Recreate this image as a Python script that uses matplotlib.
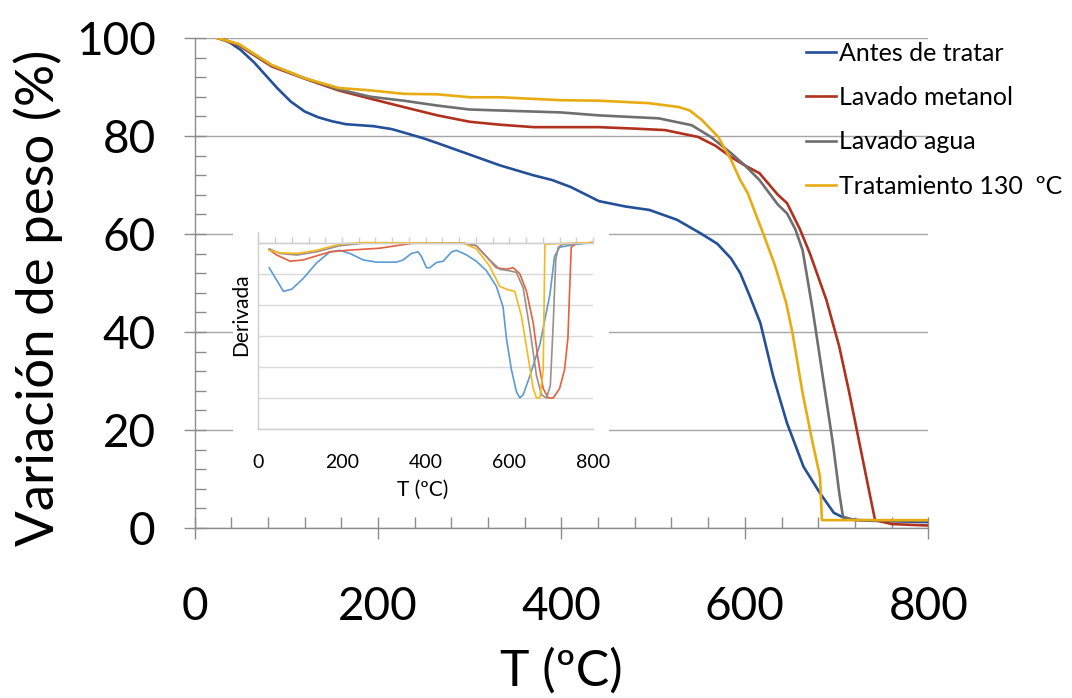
import matplotlib
matplotlib.use("Agg")
import matplotlib.pyplot as plt
from matplotlib.patches import Rectangle
from matplotlib.ticker import MultipleLocator

plt.rcParams['font.family'] = ['Lato', 'DejaVu Sans']

# TGA curves: weight (%) vs temperature (ºC)
t_antes = [25, 35, 50, 65, 77, 90, 105, 120, 135, 150, 165, 195, 215, 230, 250, 267, 300, 333, 369, 390,
           410, 441, 470, 496, 526, 552, 570, 585, 595, 605, 617, 631, 646, 664, 682, 697, 711, 730, 800]
w_antes = [100, 99.5, 97.6, 95, 92.5, 89.8, 87, 85, 83.8, 83, 82.4, 82, 81.4, 80.6, 79.5, 78.4, 76.2, 74, 72, 71,
           69.6, 66.7, 65.6, 64.9, 62.9, 60.1, 58, 55, 52, 47.5, 41.8, 30.9, 21.4, 12.5, 7.1, 3.1, 1.8, 1.5, 1.2]

t_metanol = [25, 48, 84, 120, 157, 192, 228, 265, 300, 333, 370, 441, 480, 513, 549, 568, 585, 600, 616,
             636, 646, 660, 671, 689, 703, 714, 725, 736, 742, 760, 800]
w_metanol = [100, 98.5, 94.2, 91.7, 89.3, 87.6, 85.9, 84.2, 82.9, 82.3, 81.8, 81.8, 81.5, 81.2, 79.8, 78, 75.7, 74, 72.4,
             68, 66.3, 61, 56, 46.5, 37, 27.5, 17.3, 7.1, 1.6, 0.8, 0.5]

t_agua = [25, 48, 84, 120, 157, 192, 228, 265, 300, 333, 400, 441, 506, 542, 563, 585, 600, 616, 636, 646,
          655, 663, 674, 685, 696, 703, 707, 720, 800]
w_agua = [100, 98.6, 94.4, 91.8, 89.5, 88, 87.2, 86.2, 85.4, 85.2, 84.8, 84.2, 83.6, 82.2, 79.8, 76.5, 74, 71, 66, 64.2,
          61, 56.7, 44.5, 30.9, 17.3, 7.1, 2.3, 1.6, 1.5]

t_130 = [25, 48, 84, 120, 157, 192, 228, 265, 300, 333, 400, 441, 495, 528, 540, 553, 571, 585, 595, 603,
         620, 633, 645, 652, 663, 674, 682, 684, 800]
w_130 = [100, 98.8, 94.5, 91.8, 89.8, 89.3, 88.6, 88.5, 87.9, 87.9, 87.3, 87.2, 86.7, 85.9, 85.2, 83.3, 79.8, 75.1, 71, 68.4,
         60.1, 53.5, 46, 39.8, 27.5, 17.3, 10.5, 1.6, 1.6]

# derivative curves (normalised) for the inset
td_antes = [26, 60, 80, 107, 139, 171, 195, 219, 251, 283, 330, 346, 366, 382, 390, 402, 410, 426, 442, 462,
            474, 498, 521, 545, 569, 585, 593, 605, 617, 625, 633, 649, 673, 697, 708, 720, 752, 800]
d_antes = [-0.81, -1.57, -1.5, -1.16, -0.66, -0.3, -0.25, -0.35, -0.56, -0.63, -0.63, -0.56, -0.35, -0.3, -0.45, -0.81,
           -0.81, -0.64, -0.6, -0.3, -0.25, -0.4, -0.6, -0.9, -1.41, -2.07, -3.08, -4.09, -4.8, -5.0, -4.9, -4.3,
           -3.28, -1.67, -0.45, -0.15, -0.07, 0]

td_metanol = [26, 44, 76, 107, 171, 211, 291, 330, 370, 490, 521, 545, 569, 593, 609, 625, 641, 657, 669, 681,
              693, 705, 720, 732, 740, 744, 748, 760, 800]
d_metanol = [-0.23, -0.4, -0.6, -0.56, -0.3, -0.25, -0.18, -0.1, -0.02, -0.02, -0.1, -0.45, -0.81, -0.86, -0.81,
             -1.0, -1.57, -2.58, -3.79, -4.7, -5.0, -5.0, -4.7, -4.09, -3.08, -1.57, -0.15, -0.02, 0]

td_agua = [26, 52, 92, 139, 195, 251, 490, 521, 553, 577, 601, 617, 633, 649, 665, 677, 689, 698, 705, 711,
           717, 728, 800]
d_agua = [-0.2, -0.35, -0.4, -0.3, -0.1, -0.02, -0.02, -0.1, -0.56, -0.86, -0.91, -0.96, -1.46, -2.78, -4.29, -4.9,
          -5.0, -4.6, -2.58, -0.56, -0.15, -0.05, 0]

td_130 = [26, 52, 92, 139, 195, 251, 490, 521, 553, 577, 597, 613, 629, 645, 657, 665, 673, 681, 683, 685, 800]
d_130 = [-0.25, -0.33, -0.35, -0.25, -0.05, 0, -0.02, -0.2, -0.76, -1.41, -1.52, -1.57, -2.37, -3.69, -4.7, -5.0,
         -5.0, -4.1, -2.07, -0.05, 0]

labels = ["Antes de tratar", "Lavado metanol", "Lavado agua", "Tratamiento 130  ºC"]
colors = ['#24509a', '#b0321e', '#6f6f6f', '#e8ac12']
inset_colors = ['#5b9bd5', '#e5603c', '#9a8f8a', '#f5b81e']

fig = plt.figure(figsize=(10.72, 6.98), dpi=100)
ax = fig.add_axes([0.1815, 0.2436, 0.6844, 0.702])

series = [(t_antes, w_antes), (t_metanol, w_metanol), (t_agua, w_agua), (t_130, w_130)]
for (t, w), c, lab in zip(series, colors, labels):
    ax.plot(t, w, color=c, lw=1.9, label=lab, zorder=3)

ax.set_xlim(0, 800)
ax.set_ylim(0, 100)
ax.xaxis.set_major_locator(MultipleLocator(200))
ax.xaxis.set_minor_locator(MultipleLocator(40))
ax.yaxis.set_major_locator(MultipleLocator(20))
ax.yaxis.set_minor_locator(MultipleLocator(4))

axis_grey = '#8c8c8c'
ax.grid(axis='y', which='major', color='#a6a6a6', lw=1.0)
ax.set_axisbelow(True)
for side in ['top', 'right']:
    ax.spines[side].set_visible(False)
for side in ['left', 'bottom']:
    ax.spines[side].set_color(axis_grey)
    ax.spines[side].set_linewidth(1.0)

ax.tick_params(which='major', direction='inout', length=16, width=1.0, color=axis_grey, labelsize=33)
ax.tick_params(which='minor', direction='in', length=8, width=1.0, color=axis_grey)
ax.tick_params(axis='y', which='major', pad=20)
ax.tick_params(axis='x', which='major', pad=34)

ax.set_xlabel("T (ºC)", fontsize=36)
ax.xaxis.set_label_coords(0.5, -0.245)
ax.set_ylabel("Variación de peso (%)", fontsize=38)
ax.yaxis.set_label_coords(-0.18, 0.47)

ax.legend(loc='upper left', bbox_to_anchor=(0.752, 0.94), bbox_transform=fig.transFigure,
          frameon=False, fontsize=18, handlelength=1.2, handletextpad=0.1,
          labelspacing=0.85, borderpad=0, borderaxespad=0)

# white panel behind the inset
fig.add_artist(Rectangle((233 / 1072, 1 - 505 / 698), (609 - 233) / 1072, (505 - 218) / 698,
                         transform=fig.transFigure, facecolor='white', edgecolor='none', zorder=1))

ins = fig.add_axes([258.3 / 1072, 1 - 429 / 698, 334.7 / 1072, 197.3 / 698], zorder=2)
dseries = [(td_antes, d_antes), (td_metanol, d_metanol), (td_agua, d_agua), (td_130, d_130)]
for (t, d), c in zip(dseries, inset_colors):
    ins.plot(t, d, color=c, lw=1.2)

ins.set_xlim(0, 800)
ins.set_ylim(-6, 0.35)
ins.set_yticks([-6, -5, -4, -3, -2, -1, 0])
ins.yaxis.set_minor_locator(plt.NullLocator())
ins.grid(axis='y', color='#d9d9d9', lw=1.0)
ins.set_axisbelow(True)
ins.tick_params(axis='y', left=False, labelleft=False)
ins.xaxis.set_major_locator(MultipleLocator(200))
ins.xaxis.set_minor_locator(MultipleLocator(40))
ins.spines['right'].set_visible(False)
ins.spines['top'].set_position(('data', 0))
for side in ['left', 'bottom', 'top']:
    ins.spines[side].set_color('#cfcfcf')
    ins.spines[side].set_linewidth(1.0)
ins.tick_params(axis='x', which='both', bottom=False, top=True, labelbottom=True, labeltop=False,
                direction='out', length=4, width=1.0, color='#cfcfcf', labelsize=14, pad=14)
ins.set_xlabel("T (ºC)", fontsize=15)
ins.xaxis.set_label_coords(0.49, -0.26)
ins.set_ylabel("Derivada", fontsize=15)
ins.yaxis.set_label_coords(-0.02, 0.58)

fig.savefig("out.png", dpi=100)
